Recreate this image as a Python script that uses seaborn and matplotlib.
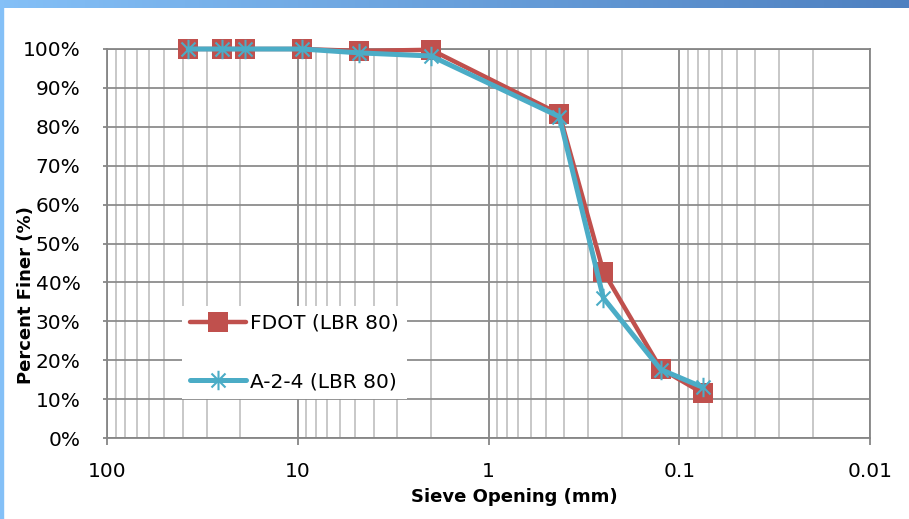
import matplotlib
matplotlib.use("Agg")
import matplotlib.pyplot as plt
import numpy as np
import pandas as pd
import seaborn as sns
from matplotlib.path import Path
from matplotlib.patches import Rectangle
from matplotlib.ticker import FixedLocator, FixedFormatter, LogLocator, NullFormatter

# sieve openings (mm) and percent passing
sieve_mm = [37.5, 25.0, 19.0, 9.5, 4.75, 2.0, 0.425, 0.25, 0.125, 0.075]
fdot = [100, 100, 100, 100, 99.5, 99.8, 83.3, 42.8, 17.8, 11.5]
a24 = [100, 100, 100, 100, 99.0, 98.2, 82.6, 36.0, 17.6, 13.0]

series_names = ["FDOT (LBR 80)", "A-2-4 (LBR 80)"]
series_colors = ["#C0504D", "#4BACC6"]

x_ticks = [100, 10, 1, 0.1, 0.01]
x_tick_labels = ["100", "10", "1", "0.1", "0.01"]
y_ticks = list(range(0, 101, 10))
y_tick_labels = [f"{v}%" for v in y_ticks]

df = pd.concat([
    pd.DataFrame({"sieve": sieve_mm, "pct": fdot, "series": series_names[0]}),
    pd.DataFrame({"sieve": sieve_mm, "pct": a24, "series": series_names[1]}),
])

sns.set_style("white")
plt.rcParams["font.family"] = ["DejaVu Sans"]
plt.rcParams["text.color"] = "black"
plt.rcParams["axes.labelcolor"] = "black"
plt.rcParams["xtick.labelcolor"] = "black"
plt.rcParams["ytick.labelcolor"] = "black"

fig = plt.figure(figsize=(9.09, 5.19), dpi=100)
W, H = 909, 519
ax = fig.add_axes([107 / W, 1 - 438 / H, (870 - 107) / W, (438 - 49) / H])

# excel style asterisk: vertical bar plus an x
asterisk = Path(
    [(0, -1), (0, 1), (-0.72, -0.72), (0.72, 0.72), (-0.72, 0.72), (0.72, -0.72)],
    [Path.MOVETO, Path.LINETO, Path.MOVETO, Path.LINETO, Path.MOVETO, Path.LINETO],
)

sub = df[df.series == series_names[0]]
sns.lineplot(data=sub, x="sieve", y="pct", ax=ax, color=series_colors[0],
             linewidth=3.2, marker="s", markersize=14, markeredgecolor=series_colors[0],
             markeredgewidth=0, label=series_names[0], sort=False, zorder=3, clip_on=False)
sub = df[df.series == series_names[1]]
sns.lineplot(data=sub, x="sieve", y="pct", ax=ax, color=series_colors[1],
             linewidth=3.6, marker=asterisk, markersize=14, markeredgecolor=series_colors[1],
             markerfacecolor="none", markeredgewidth=1.5, label=series_names[1],
             sort=False, zorder=4, clip_on=False)

ax.set_xscale("log")
ax.set_xlim(100, 0.01)
ax.set_ylim(0, 100)

ax.xaxis.set_major_locator(FixedLocator(x_ticks))
ax.xaxis.set_major_formatter(FixedFormatter(x_tick_labels))
ax.xaxis.set_minor_locator(LogLocator(base=10, subs=np.arange(2, 10)))
ax.xaxis.set_minor_formatter(NullFormatter())
ax.yaxis.set_major_locator(FixedLocator(y_ticks))
ax.yaxis.set_major_formatter(FixedFormatter(y_tick_labels))

ax.grid(True, which="major", axis="x", color="#868686", linewidth=1.3, zorder=0)
ax.grid(True, which="minor", axis="x", color="#C4C4C4", linewidth=1.3, zorder=0)
ax.grid(True, which="major", axis="y", color="#8C8C8C", linewidth=1.3, zorder=0)
ax.set_axisbelow(True)

for side in ["left", "bottom", "right", "top"]:
    ax.spines[side].set_color("#868686")
    ax.spines[side].set_linewidth(1.3)

ax.tick_params(axis="x", which="major", direction="out", length=5, width=1.3,
               color="#868686", labelsize=14.5, pad=12, bottom=True, labelcolor="black")
ax.tick_params(axis="x", which="minor", length=0)
ax.tick_params(axis="y", which="major", direction="out", length=3, width=1.3,
               color="#868686", labelsize=14.5, pad=16, left=True, labelcolor="black")

ax.set_xlabel("Sieve Opening (mm)", fontsize=13, fontweight="bold", color="black")
ax.set_ylabel("Percent Finer (%)", fontsize=13, fontweight="bold", color="black")
ax.xaxis.set_label_coords(0.534, -0.128)
ax.yaxis.set_label_coords(-0.094, 0.368)

leg = ax.legend(loc="upper left", bbox_to_anchor=(0.098, 0.34), borderaxespad=0,
                frameon=True, fontsize=14.5, handlelength=2.8, handletextpad=0.2,
                labelspacing=1.95, borderpad=0.4, fancybox=False)
leg.get_frame().set_facecolor("white")
leg.get_frame().set_edgecolor("none")
leg.get_frame().set_alpha(1)
for t in leg.get_texts():
    t.set_color("black")

# slide border: gradient strip on top and a thin strip on the left
bar = fig.add_axes([0, 1 - 8 / H, 1, 8 / H])
bar.imshow(np.linspace(0, 1, 256).reshape(1, -1), aspect="auto",
           cmap=matplotlib.colors.LinearSegmentedColormap.from_list("b", ["#84C0F7", "#4E80C0"]))
bar.set_axis_off()
fig.patches.append(Rectangle((0, 0), 3 / W, 1, transform=fig.transFigure,
                             color="#84C0F7", zorder=0))

fig.savefig("out.png", dpi=100)
